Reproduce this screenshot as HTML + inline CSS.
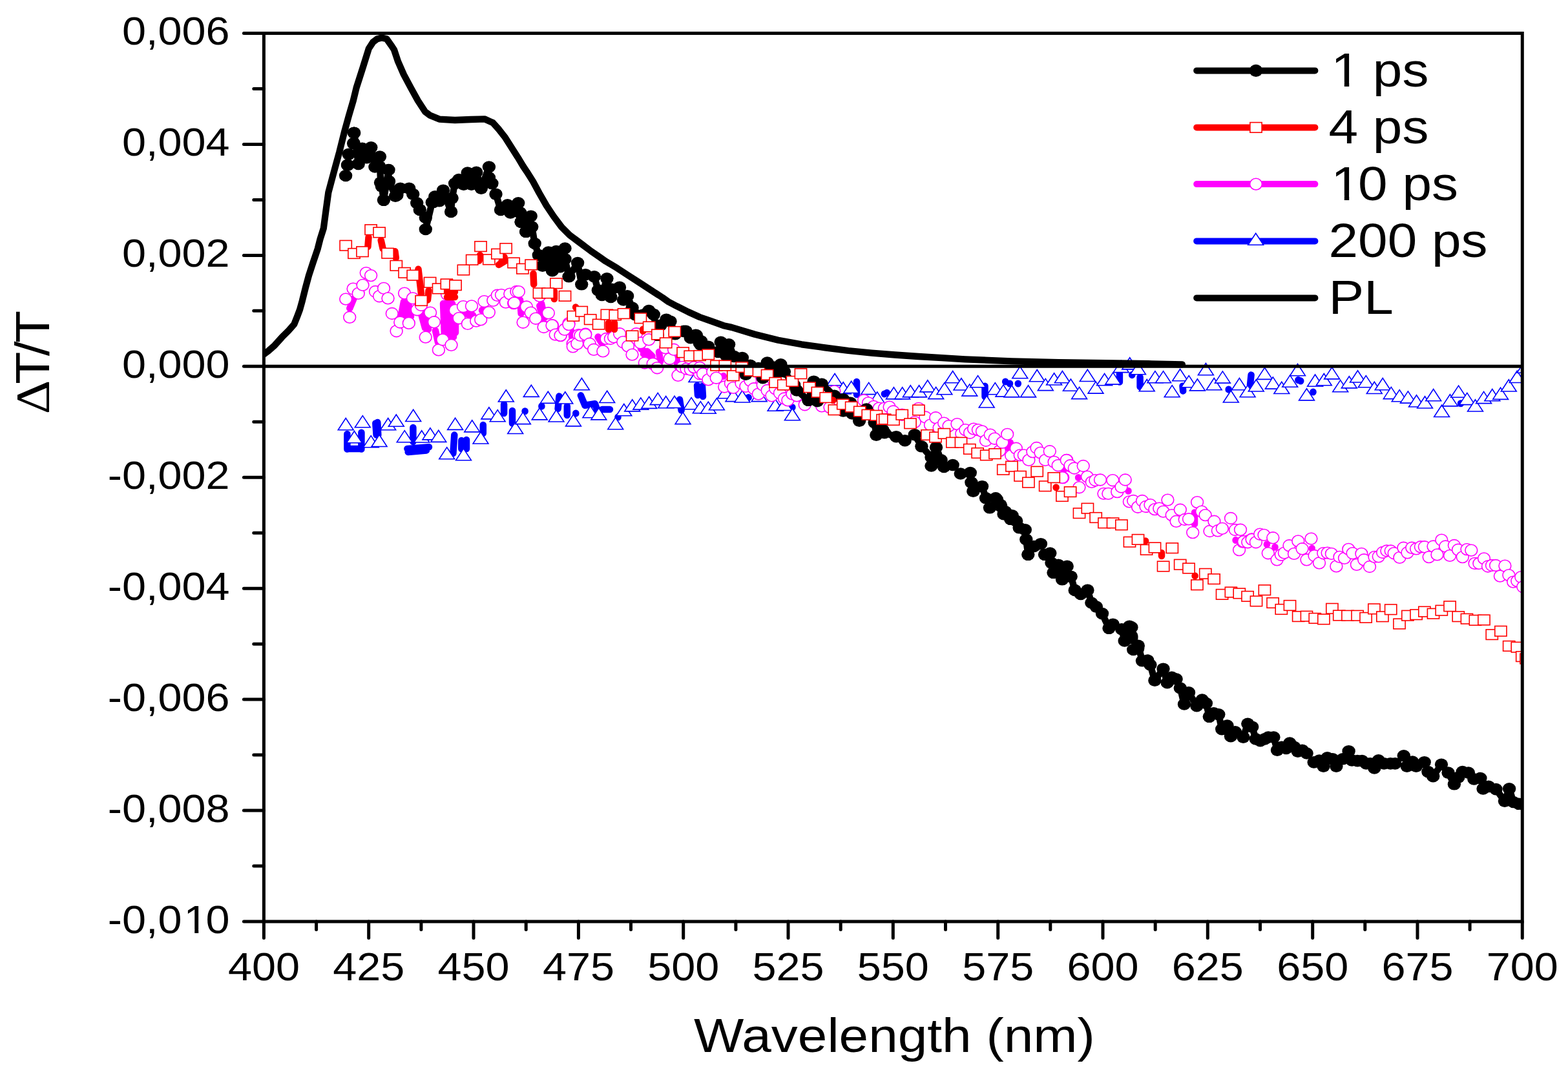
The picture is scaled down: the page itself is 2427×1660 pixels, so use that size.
<!DOCTYPE html>
<html><head><meta charset="utf-8"><title>Transient absorption spectra</title>
<style>html,body{margin:0;padding:0;background:#fff;} svg{display:block;}</style></head>
<body><svg width="2427" height="1660" viewBox="0 0 2427 1660">
<rect width="2427" height="1660" fill="#fff"/>
<defs><clipPath id="pc"><rect x="408.4" y="51.5" width="1947.9" height="1375.5"/></clipPath></defs>
<g clip-path="url(#pc)">
<path d="M537.4,672.0L537.4,695.5M559.4,669.7L559.4,695.5M581.3,655.5L582.6,673.6M584.3,654.0L585.3,673.6M537.4,694.9L559.4,694.9M639.4,662.0L639.4,684.0M630.4,694.9L664.0,692.3M631.7,700.0L660.0,697.5M703.3,673.6L701.4,702.0M714.3,682.0L714.3,695.0M722.0,681.0L722.0,695.0M747.8,658.0L747.8,671.0M780.1,626.0L780.1,640.0M793.0,636.0L793.0,655.5M812.6,636.5L812.6,637.1M838.4,628.8L838.4,629.4M865.5,613.6L863.6,633.0M877.8,629.0L877.8,643.0M891.3,639.8L891.3,640.4M898.9,612.3L905.4,627.8M905.4,627.8L920.9,625.2M920.9,625.2L924.0,634.0M932.0,634.0L944.0,634.0M956.5,645.6L956.5,646.2M1052.0,618.8L1054.6,635.5M1079.0,597.0L1080.0,612.0M1087.0,598.0L1088.0,614.0M1158.6,615.3L1158.6,615.9M1226.4,630.5L1226.4,631.1M1326.0,591.0L1326.0,611.0M1290.0,601.5L1290.0,602.1M1368.9,609.7L1368.9,610.3M1372.8,608.0L1372.8,608.6M1524.5,597.7L1524.5,614.3M1556.2,590.7L1556.2,591.3M1563.0,593.7L1563.0,594.3M1575.8,593.7L1575.8,594.3M1732.9,579.0L1732.9,591.5M1752.2,580.3L1752.2,580.9M1764.6,584.0L1764.6,599.0M1830.5,597.7L1831.2,605.4M1901.7,602.8L1901.7,603.4M1936.6,580.6L1935.0,596.1M2009.4,588.1L2009.4,588.7M2013.2,589.6L2013.2,590.2M2032.5,606.7L2032.5,607.3M2261.0,624.5L2261.0,625.1" fill="none" stroke="#00f" stroke-width="10.5" stroke-linecap="round"/>
<g fill="#fff" stroke="#00f" stroke-width="1.6"><polygon points="523.3,665.7 535.2,647.5 547.1,665.7"/><polygon points="536.5,685.7 548.4,667.5 560.3,685.7"/><polygon points="549.4,661.8 561.3,643.6 573.2,661.8"/><polygon points="562.3,692.8 574.2,674.6 586.1,692.8"/><polygon points="575.2,691.5 587.1,673.3 599.0,691.5"/><polygon points="588.8,665.7 600.7,647.5 612.6,665.7"/><polygon points="601.4,660.2 613.3,642.0 625.2,660.2"/><polygon points="614.3,684.8 626.2,666.6 638.1,684.8"/><polygon points="627.8,652.5 639.7,634.3 651.6,652.5"/><polygon points="640.8,685.0 652.7,666.8 664.6,685.0"/><polygon points="654.0,680.9 665.9,662.7 677.8,680.9"/><polygon points="666.9,684.4 678.8,666.2 690.7,684.4"/><polygon points="679.8,710.8 691.7,692.6 703.6,710.8"/><polygon points="692.7,665.4 704.6,647.2 716.5,665.4"/><polygon points="705.6,712.8 717.5,694.6 729.4,712.8"/><polygon points="718.8,668.9 730.7,650.7 742.6,668.9"/><polygon points="732.1,687.0 744.0,668.8 755.9,687.0"/><polygon points="745.0,648.9 756.9,630.7 768.8,648.9"/><polygon points="758.3,652.8 770.2,634.6 782.1,652.8"/><polygon points="771.4,622.0 783.3,603.8 795.2,622.0"/><polygon points="785.8,671.5 797.7,653.3 809.6,671.5"/><polygon points="797.5,656.6 809.4,638.4 821.3,656.6"/><polygon points="810.4,614.4 822.3,596.2 834.2,614.4"/><polygon points="823.3,649.9 835.2,631.7 847.1,649.9"/><polygon points="836.4,624.4 848.3,606.2 860.2,624.4"/><polygon points="849.1,653.0 861.0,634.8 872.9,653.0"/><polygon points="862.9,625.0 874.8,606.8 886.7,625.0"/><polygon points="875.6,659.9 887.5,641.7 899.4,659.9"/><polygon points="888.5,603.7 900.4,585.5 912.3,603.7"/><polygon points="902.0,646.7 913.9,628.5 925.8,646.7"/><polygon points="914.9,649.9 926.8,631.7 938.7,649.9"/><polygon points="927.8,623.5 939.7,605.3 951.6,623.5"/><polygon points="940.8,664.8 952.7,646.6 964.6,664.8"/><polygon points="953.9,643.7 965.8,625.5 977.7,643.7"/><polygon points="966.8,636.9 978.7,618.7 990.6,636.9"/><polygon points="979.9,634.1 991.8,615.9 1003.7,634.1"/><polygon points="992.8,632.4 1004.7,614.2 1016.6,632.4"/><polygon points="1006.3,626.6 1018.2,608.4 1030.1,626.6"/><polygon points="1018.8,631.7 1030.7,613.5 1042.6,631.7"/><polygon points="1032.1,631.5 1044.0,613.3 1055.9,631.5"/><polygon points="1045.1,656.6 1057.0,638.4 1068.9,656.6"/><polygon points="1058.2,633.8 1070.1,615.6 1082.0,633.8"/><polygon points="1066.0,591.5 1077.9,573.3 1089.8,591.5"/><polygon points="1072.4,639.8 1084.3,621.6 1096.2,639.8"/><polygon points="1084.4,640.3 1096.3,622.1 1108.2,640.3"/><polygon points="1097.5,634.8 1109.4,616.6 1121.3,634.8"/><polygon points="1110.7,616.8 1122.6,598.6 1134.5,616.8"/><polygon points="1123.1,621.6 1135.0,603.4 1146.9,621.6"/><polygon points="1137.0,623.0 1148.9,604.8 1160.8,623.0"/><polygon points="1163.3,621.6 1175.2,603.4 1187.1,621.6"/><polygon points="1188.2,636.2 1200.1,618.0 1212.0,636.2"/><polygon points="1202.0,635.5 1213.9,617.3 1225.8,635.5"/><polygon points="1214.5,650.7 1226.4,632.5 1238.3,650.7"/><polygon points="1280.2,596.7 1292.1,578.5 1304.0,596.7"/><polygon points="1293.3,609.9 1305.2,591.7 1317.1,609.9"/><polygon points="1305.8,608.5 1317.7,590.3 1329.6,608.5"/><polygon points="1332.8,610.6 1344.7,592.4 1356.6,610.6"/><polygon points="1345.9,625.1 1357.8,606.9 1369.7,625.1"/><polygon points="1371.5,617.9 1383.4,599.7 1395.3,617.9"/><polygon points="1384.8,617.9 1396.7,599.7 1408.6,617.9"/><polygon points="1397.4,614.9 1409.3,596.7 1421.2,614.9"/><polygon points="1410.7,614.9 1422.6,596.7 1434.5,614.9"/><polygon points="1423.9,606.9 1435.8,588.7 1447.7,606.9"/><polygon points="1436.8,617.6 1448.7,599.4 1460.6,617.6"/><polygon points="1450.0,610.8 1461.9,592.6 1473.8,610.8"/><polygon points="1462.8,592.7 1474.7,574.5 1486.6,592.7"/><polygon points="1476.1,604.0 1488.0,585.8 1499.9,604.0"/><polygon points="1488.9,613.1 1500.8,594.9 1512.7,613.1"/><polygon points="1501.7,599.8 1513.6,581.6 1525.5,599.8"/><polygon points="1515.3,631.0 1527.2,612.8 1539.1,631.0"/><polygon points="1528.4,610.8 1540.3,592.6 1552.2,610.8"/><polygon points="1541.1,614.1 1553.0,595.9 1564.9,614.1"/><polygon points="1554.1,614.9 1566.0,596.7 1577.9,614.9"/><polygon points="1566.9,585.8 1578.8,567.6 1590.7,585.8"/><polygon points="1579.7,614.9 1591.6,596.7 1603.5,614.9"/><polygon points="1593.3,590.7 1605.2,572.5 1617.1,590.7"/><polygon points="1606.4,604.6 1618.3,586.4 1630.2,604.6"/><polygon points="1619.7,596.0 1631.6,577.8 1643.5,596.0"/><polygon points="1632.5,592.7 1644.4,574.5 1656.3,592.7"/><polygon points="1645.5,605.2 1657.4,587.0 1669.3,605.2"/><polygon points="1658.7,617.6 1670.6,599.4 1682.5,617.6"/><polygon points="1671.4,590.5 1683.3,572.3 1695.2,590.5"/><polygon points="1684.1,609.1 1696.0,590.9 1707.9,609.1"/><polygon points="1697.7,596.7 1709.6,578.5 1721.5,596.7"/><polygon points="1710.9,595.1 1722.8,576.9 1734.7,595.1"/><polygon points="1723.3,576.6 1735.2,558.4 1747.1,576.6"/><polygon points="1736.8,571.9 1748.7,553.7 1760.6,571.9"/><polygon points="1749.6,579.7 1761.5,561.5 1773.4,579.7"/><polygon points="1763.3,605.7 1775.2,587.5 1787.1,605.7"/><polygon points="1776.0,592.8 1787.9,574.6 1799.8,592.8"/><polygon points="1788.7,592.8 1800.6,574.6 1812.5,592.8"/><polygon points="1802.3,614.8 1814.2,596.6 1826.1,614.8"/><polygon points="1814.7,589.7 1826.6,571.5 1838.5,589.7"/><polygon points="1828.3,599.8 1840.2,581.6 1852.1,599.8"/><polygon points="1841.5,604.9 1853.4,586.7 1865.3,604.9"/><polygon points="1854.5,580.7 1866.4,562.5 1878.3,580.7"/><polygon points="1867.3,603.7 1879.2,585.5 1891.1,603.7"/><polygon points="1880.5,593.1 1892.4,574.9 1904.3,593.1"/><polygon points="1893.4,623.0 1905.3,604.8 1917.2,623.0"/><polygon points="1906.5,603.7 1918.4,585.5 1930.3,603.7"/><polygon points="1919.2,614.8 1931.1,596.6 1943.0,614.8"/><polygon points="1932.4,606.0 1944.3,587.8 1956.2,606.0"/><polygon points="1945.6,587.4 1957.5,569.2 1969.4,587.4"/><polygon points="1958.4,602.1 1970.3,583.9 1982.2,602.1"/><polygon points="1971.9,609.5 1983.8,591.3 1995.7,609.5"/><polygon points="1984.8,599.3 1996.7,581.1 2008.6,599.3"/><polygon points="1996.6,581.7 2008.5,563.5 2020.4,581.7"/><polygon points="2010.6,619.9 2022.5,601.7 2034.4,619.9"/><polygon points="2023.7,598.2 2035.6,580.0 2047.5,598.2"/><polygon points="2037.4,596.7 2049.3,578.5 2061.2,596.7"/><polygon points="2049.7,586.9 2061.6,568.7 2073.5,586.9"/><polygon points="2062.8,606.8 2074.7,588.6 2086.6,606.8"/><polygon points="2076.4,600.9 2088.3,582.7 2100.2,600.9"/><polygon points="2089.6,592.0 2101.5,573.8 2113.4,592.0"/><polygon points="2102.4,599.8 2114.3,581.6 2126.2,599.8"/><polygon points="2115.4,609.5 2127.3,591.3 2139.2,609.5"/><polygon points="2128.3,603.7 2140.2,585.5 2152.1,603.7"/><polygon points="2141.4,617.6 2153.3,599.4 2165.2,617.6"/><polygon points="2154.3,621.8 2166.2,603.6 2178.1,621.8"/><polygon points="2167.5,624.1 2179.4,605.9 2191.3,624.1"/><polygon points="2180.6,630.0 2192.5,611.8 2204.4,630.0"/><polygon points="2193.6,632.0 2205.5,613.8 2217.4,632.0"/><polygon points="2206.8,620.7 2218.7,602.5 2230.6,620.7"/><polygon points="2219.7,645.5 2231.6,627.3 2243.5,645.5"/><polygon points="2232.5,628.9 2244.4,610.7 2256.3,628.9"/><polygon points="2245.7,615.3 2257.6,597.1 2269.5,615.3"/><polygon points="2258.9,626.6 2270.8,608.4 2282.7,626.6"/><polygon points="2271.6,637.0 2283.5,618.8 2295.4,637.0"/><polygon points="2284.7,624.6 2296.6,606.4 2308.5,624.6"/><polygon points="2297.9,620.7 2309.8,602.5 2321.7,620.7"/><polygon points="2310.7,618.4 2322.6,600.2 2334.5,618.4"/><polygon points="2323.4,606.0 2335.3,587.8 2347.2,606.0"/><polygon points="2336.3,592.5 2348.2,574.3 2360.1,592.5"/><polygon points="2348.1,577.3 2360.0,559.1 2371.9,577.3"/></g>
<path d="M547.7,462.0L541.3,477.5M625.0,467.0L621.0,488.0M632.0,470.0L636.0,490.0M621.0,488.0L636.0,490.0M628.0,475.0L628.0,488.0M656.0,484.0L663.0,510.0M652.0,486.0L658.0,508.0M674.0,512.0L678.0,530.0M686.0,470.0L688.0,520.0M693.0,466.0L695.0,522.0M700.0,470.0L702.0,522.0M705.0,490.0L705.0,515.0M720.0,486.0L732.0,488.0M746.0,480.1L746.0,480.7M805.1,464.5L806.6,485.6M835.3,473.5L839.8,493.2M838.0,470.0L843.0,492.0M884.0,512.0L886.0,527.0M925.8,521.5L925.8,522.1M925.5,522.0L932.0,532.3M1001.7,543.9L1009.5,551.6M992.0,540.0L1008.0,552.0M996.0,548.0L1010.0,556.0M1020.0,545.0L1022.0,560.0M1047.0,553.0L1049.0,569.0M1119.8,582.1L1119.8,582.7M1563.7,685.2L1560.7,694.3M1646.7,727.2L1646.7,727.8M1669.1,739.2L1669.1,739.8M1746.5,760.0L1746.5,760.6M1849.0,793.5L1849.0,811.5M1912.6,836.1L1912.6,836.7M1960.9,842.6L1960.9,843.2M1973.5,847.0L1973.5,847.6M2030.7,848.9L2030.7,849.5" fill="none" stroke="#f0f" stroke-width="10.5" stroke-linecap="round"/>
<g fill="#fff" stroke="#f0f" stroke-width="1.6"><ellipse cx="535.2" cy="463.1" rx="9.4" ry="8.9"/><ellipse cx="541.2" cy="491.3" rx="9.4" ry="8.9"/><ellipse cx="546.6" cy="447.2" rx="9.4" ry="8.9"/><ellipse cx="554.7" cy="454.4" rx="9.4" ry="8.9"/><ellipse cx="561.5" cy="441.4" rx="9.4" ry="8.9"/><ellipse cx="566.8" cy="422.6" rx="9.4" ry="8.9"/><ellipse cx="574.1" cy="426.6" rx="9.4" ry="8.9"/><ellipse cx="581.0" cy="451.5" rx="9.4" ry="8.9"/><ellipse cx="587.1" cy="458.7" rx="9.4" ry="8.9"/><ellipse cx="594.0" cy="446.4" rx="9.4" ry="8.9"/><ellipse cx="600.5" cy="461.9" rx="9.4" ry="8.9"/><ellipse cx="606.8" cy="485.5" rx="9.4" ry="8.9"/><ellipse cx="613.6" cy="512.7" rx="9.4" ry="8.9"/><ellipse cx="619.3" cy="499.0" rx="9.4" ry="8.9"/><ellipse cx="626.1" cy="454.1" rx="9.4" ry="8.9"/><ellipse cx="632.8" cy="500.4" rx="9.4" ry="8.9"/><ellipse cx="638.9" cy="461.9" rx="9.4" ry="8.9"/><ellipse cx="645.7" cy="479.7" rx="9.4" ry="8.9"/><ellipse cx="651.9" cy="472.5" rx="9.4" ry="8.9"/><ellipse cx="658.7" cy="522.1" rx="9.4" ry="8.9"/><ellipse cx="666.1" cy="484.1" rx="9.4" ry="8.9"/><ellipse cx="671.9" cy="498.8" rx="9.4" ry="8.9"/><ellipse cx="678.9" cy="541.9" rx="9.4" ry="8.9"/><ellipse cx="685.2" cy="526.0" rx="9.4" ry="8.9"/><ellipse cx="692.0" cy="455.8" rx="9.4" ry="8.9"/><ellipse cx="698.5" cy="534.3" rx="9.4" ry="8.9"/><ellipse cx="704.7" cy="480.4" rx="9.4" ry="8.9"/><ellipse cx="710.5" cy="492.7" rx="9.4" ry="8.9"/><ellipse cx="717.0" cy="474.7" rx="9.4" ry="8.9"/><ellipse cx="723.9" cy="501.4" rx="9.4" ry="8.9"/><ellipse cx="730.0" cy="473.9" rx="9.4" ry="8.9"/><ellipse cx="737.2" cy="497.1" rx="9.4" ry="8.9"/><ellipse cx="744.2" cy="494.9" rx="9.4" ry="8.9"/><ellipse cx="749.5" cy="466.7" rx="9.4" ry="8.9"/><ellipse cx="756.8" cy="483.6" rx="9.4" ry="8.9"/><ellipse cx="763.3" cy="465.3" rx="9.4" ry="8.9"/><ellipse cx="769.8" cy="457.3" rx="9.4" ry="8.9"/><ellipse cx="776.0" cy="456.6" rx="9.4" ry="8.9"/><ellipse cx="782.8" cy="468.1" rx="9.4" ry="8.9"/><ellipse cx="789.3" cy="455.1" rx="9.4" ry="8.9"/><ellipse cx="795.1" cy="469.6" rx="9.4" ry="8.9"/><ellipse cx="799.4" cy="451.5" rx="9.4" ry="8.9"/><ellipse cx="802.8" cy="451.7" rx="9.4" ry="8.9"/><ellipse cx="796.0" cy="469.0" rx="9.4" ry="8.9"/><ellipse cx="814.9" cy="475.0" rx="9.4" ry="8.9"/><ellipse cx="821.7" cy="484.1" rx="9.4" ry="8.9"/><ellipse cx="835.3" cy="458.4" rx="9.4" ry="8.9"/><ellipse cx="809.6" cy="499.2" rx="9.4" ry="8.9"/><ellipse cx="829.2" cy="493.2" rx="9.4" ry="8.9"/><ellipse cx="848.8" cy="484.8" rx="9.4" ry="8.9"/><ellipse cx="842.1" cy="506.0" rx="9.4" ry="8.9"/><ellipse cx="854.9" cy="503.7" rx="9.4" ry="8.9"/><ellipse cx="860.9" cy="517.3" rx="9.4" ry="8.9"/><ellipse cx="867.7" cy="519.6" rx="9.4" ry="8.9"/><ellipse cx="874.5" cy="509.7" rx="9.4" ry="8.9"/><ellipse cx="880.5" cy="500.7" rx="9.4" ry="8.9"/><ellipse cx="895.6" cy="518.8" rx="9.4" ry="8.9"/><ellipse cx="906.2" cy="517.3" rx="9.4" ry="8.9"/><ellipse cx="886.6" cy="532.4" rx="9.4" ry="8.9"/><ellipse cx="841.6" cy="506.5" rx="9.4" ry="8.9"/><ellipse cx="854.5" cy="503.9" rx="9.4" ry="8.9"/><ellipse cx="859.7" cy="518.1" rx="9.4" ry="8.9"/><ellipse cx="867.5" cy="519.4" rx="9.4" ry="8.9"/><ellipse cx="873.9" cy="510.3" rx="9.4" ry="8.9"/><ellipse cx="880.4" cy="502.6" rx="9.4" ry="8.9"/><ellipse cx="886.8" cy="536.8" rx="9.4" ry="8.9"/><ellipse cx="893.3" cy="532.3" rx="9.4" ry="8.9"/><ellipse cx="898.4" cy="519.4" rx="9.4" ry="8.9"/><ellipse cx="906.2" cy="518.1" rx="9.4" ry="8.9"/><ellipse cx="912.6" cy="532.3" rx="9.4" ry="8.9"/><ellipse cx="919.1" cy="541.3" rx="9.4" ry="8.9"/><ellipse cx="933.3" cy="543.9" rx="9.4" ry="8.9"/><ellipse cx="938.5" cy="524.5" rx="9.4" ry="8.9"/><ellipse cx="944.9" cy="524.5" rx="9.4" ry="8.9"/><ellipse cx="950.1" cy="521.9" rx="9.4" ry="8.9"/><ellipse cx="959.1" cy="516.8" rx="9.4" ry="8.9"/><ellipse cx="964.3" cy="529.7" rx="9.4" ry="8.9"/><ellipse cx="972.0" cy="536.1" rx="9.4" ry="8.9"/><ellipse cx="978.5" cy="549.1" rx="9.4" ry="8.9"/><ellipse cx="984.9" cy="516.8" rx="9.4" ry="8.9"/><ellipse cx="991.4" cy="531.0" rx="9.4" ry="8.9"/><ellipse cx="997.8" cy="562.0" rx="9.4" ry="8.9"/><ellipse cx="1004.3" cy="525.8" rx="9.4" ry="8.9"/><ellipse cx="1010.7" cy="563.3" rx="9.4" ry="8.9"/><ellipse cx="1017.2" cy="569.7" rx="9.4" ry="8.9"/><ellipse cx="1030.1" cy="538.7" rx="9.4" ry="8.9"/><ellipse cx="1036.6" cy="555.5" rx="9.4" ry="8.9"/><ellipse cx="1043.0" cy="541.3" rx="9.4" ry="8.9"/><ellipse cx="1049.5" cy="581.3" rx="9.4" ry="8.9"/><ellipse cx="1055.9" cy="568.4" rx="9.4" ry="8.9"/><ellipse cx="1062.4" cy="571.0" rx="9.4" ry="8.9"/><ellipse cx="1068.8" cy="572.3" rx="9.4" ry="8.9"/><ellipse cx="1075.3" cy="569.7" rx="9.4" ry="8.9"/><ellipse cx="1083.0" cy="578.7" rx="9.4" ry="8.9"/><ellipse cx="1074.2" cy="568.6" rx="9.4" ry="8.9"/><ellipse cx="1083.1" cy="569.3" rx="9.4" ry="8.9"/><ellipse cx="1088.0" cy="578.9" rx="9.4" ry="8.9"/><ellipse cx="1096.3" cy="587.9" rx="9.4" ry="8.9"/><ellipse cx="1103.2" cy="575.5" rx="9.4" ry="8.9"/><ellipse cx="1108.7" cy="585.2" rx="9.4" ry="8.9"/><ellipse cx="1121.2" cy="599.0" rx="9.4" ry="8.9"/><ellipse cx="1130.9" cy="593.5" rx="9.4" ry="8.9"/><ellipse cx="1135.0" cy="600.4" rx="9.4" ry="8.9"/><ellipse cx="1147.5" cy="593.5" rx="9.4" ry="8.9"/><ellipse cx="1154.4" cy="598.3" rx="9.4" ry="8.9"/><ellipse cx="1161.3" cy="589.3" rx="9.4" ry="8.9"/><ellipse cx="1166.9" cy="601.8" rx="9.4" ry="8.9"/><ellipse cx="1173.8" cy="610.1" rx="9.4" ry="8.9"/><ellipse cx="1180.7" cy="596.2" rx="9.4" ry="8.9"/><ellipse cx="1187.6" cy="604.5" rx="9.4" ry="8.9"/><ellipse cx="1194.5" cy="612.8" rx="9.4" ry="8.9"/><ellipse cx="1200.1" cy="601.8" rx="9.4" ry="8.9"/><ellipse cx="1207.0" cy="608.7" rx="9.4" ry="8.9"/><ellipse cx="1213.9" cy="617.0" rx="9.4" ry="8.9"/><ellipse cx="1219.4" cy="619.8" rx="9.4" ry="8.9"/><ellipse cx="1226.4" cy="610.1" rx="9.4" ry="8.9"/><ellipse cx="1233.3" cy="612.8" rx="9.4" ry="8.9"/><ellipse cx="1245.7" cy="626.7" rx="9.4" ry="8.9"/><ellipse cx="1272.0" cy="628.8" rx="9.4" ry="8.9"/><ellipse cx="1284.5" cy="630.8" rx="9.4" ry="8.9"/><ellipse cx="1291.4" cy="605.9" rx="9.4" ry="8.9"/><ellipse cx="1337.1" cy="619.8" rx="9.4" ry="8.9"/><ellipse cx="1344.0" cy="623.9" rx="9.4" ry="8.9"/><ellipse cx="1352.3" cy="629.4" rx="9.4" ry="8.9"/><ellipse cx="1360.6" cy="632.2" rx="9.4" ry="8.9"/><ellipse cx="1368.9" cy="632.2" rx="9.4" ry="8.9"/><ellipse cx="1356.4" cy="653.0" rx="9.4" ry="8.9"/><ellipse cx="1376.6" cy="630.2" rx="9.4" ry="8.9"/><ellipse cx="1382.6" cy="637.0" rx="9.4" ry="8.9"/><ellipse cx="1396.2" cy="642.2" rx="9.4" ry="8.9"/><ellipse cx="1415.8" cy="653.6" rx="9.4" ry="8.9"/><ellipse cx="1421.9" cy="632.4" rx="9.4" ry="8.9"/><ellipse cx="1432.4" cy="646.0" rx="9.4" ry="8.9"/><ellipse cx="1440.0" cy="658.1" rx="9.4" ry="8.9"/><ellipse cx="1448.3" cy="646.8" rx="9.4" ry="8.9"/><ellipse cx="1453.6" cy="662.6" rx="9.4" ry="8.9"/><ellipse cx="1461.1" cy="655.1" rx="9.4" ry="8.9"/><ellipse cx="1468.6" cy="659.6" rx="9.4" ry="8.9"/><ellipse cx="1481.5" cy="656.6" rx="9.4" ry="8.9"/><ellipse cx="1488.3" cy="671.7" rx="9.4" ry="8.9"/><ellipse cx="1494.3" cy="665.6" rx="9.4" ry="8.9"/><ellipse cx="1501.1" cy="670.2" rx="9.4" ry="8.9"/><ellipse cx="1507.1" cy="664.1" rx="9.4" ry="8.9"/><ellipse cx="1513.9" cy="665.6" rx="9.4" ry="8.9"/><ellipse cx="1520.0" cy="667.9" rx="9.4" ry="8.9"/><ellipse cx="1526.0" cy="682.2" rx="9.4" ry="8.9"/><ellipse cx="1532.8" cy="673.2" rx="9.4" ry="8.9"/><ellipse cx="1539.6" cy="679.2" rx="9.4" ry="8.9"/><ellipse cx="1547.1" cy="698.1" rx="9.4" ry="8.9"/><ellipse cx="1551.6" cy="685.2" rx="9.4" ry="8.9"/><ellipse cx="1559.2" cy="672.4" rx="9.4" ry="8.9"/><ellipse cx="1565.2" cy="705.6" rx="9.4" ry="8.9"/><ellipse cx="1572.8" cy="694.3" rx="9.4" ry="8.9"/><ellipse cx="1578.8" cy="704.9" rx="9.4" ry="8.9"/><ellipse cx="1584.8" cy="704.9" rx="9.4" ry="8.9"/><ellipse cx="1592.4" cy="712.4" rx="9.4" ry="8.9"/><ellipse cx="1598.4" cy="699.6" rx="9.4" ry="8.9"/><ellipse cx="1604.5" cy="693.5" rx="9.4" ry="8.9"/><ellipse cx="1610.5" cy="701.1" rx="9.4" ry="8.9"/><ellipse cx="1618.0" cy="712.4" rx="9.4" ry="8.9"/><ellipse cx="1624.8" cy="698.8" rx="9.4" ry="8.9"/><ellipse cx="1631.6" cy="715.4" rx="9.4" ry="8.9"/><ellipse cx="1637.7" cy="720.7" rx="9.4" ry="8.9"/><ellipse cx="1645.2" cy="739.6" rx="9.4" ry="8.9"/><ellipse cx="1651.2" cy="712.4" rx="9.4" ry="8.9"/><ellipse cx="1657.3" cy="722.2" rx="9.4" ry="8.9"/><ellipse cx="1650.8" cy="712.5" rx="9.4" ry="8.9"/><ellipse cx="1644.2" cy="739.5" rx="9.4" ry="8.9"/><ellipse cx="1656.6" cy="720.8" rx="9.4" ry="8.9"/><ellipse cx="1662.8" cy="725.0" rx="9.4" ry="8.9"/><ellipse cx="1676.7" cy="721.5" rx="9.4" ry="8.9"/><ellipse cx="1670.4" cy="754.7" rx="9.4" ry="8.9"/><ellipse cx="1682.9" cy="738.1" rx="9.4" ry="8.9"/><ellipse cx="1689.8" cy="746.4" rx="9.4" ry="8.9"/><ellipse cx="1695.4" cy="743.7" rx="9.4" ry="8.9"/><ellipse cx="1703.0" cy="743.0" rx="9.4" ry="8.9"/><ellipse cx="1708.5" cy="764.4" rx="9.4" ry="8.9"/><ellipse cx="1715.4" cy="764.4" rx="9.4" ry="8.9"/><ellipse cx="1722.3" cy="743.7" rx="9.4" ry="8.9"/><ellipse cx="1729.3" cy="761.6" rx="9.4" ry="8.9"/><ellipse cx="1735.5" cy="754.0" rx="9.4" ry="8.9"/><ellipse cx="1741.7" cy="743.0" rx="9.4" ry="8.9"/><ellipse cx="1747.9" cy="776.9" rx="9.4" ry="8.9"/><ellipse cx="1754.2" cy="775.5" rx="9.4" ry="8.9"/><ellipse cx="1761.1" cy="785.2" rx="9.4" ry="8.9"/><ellipse cx="1768.0" cy="775.5" rx="9.4" ry="8.9"/><ellipse cx="1773.5" cy="784.5" rx="9.4" ry="8.9"/><ellipse cx="1780.5" cy="781.7" rx="9.4" ry="8.9"/><ellipse cx="1787.4" cy="788.6" rx="9.4" ry="8.9"/><ellipse cx="1794.3" cy="787.2" rx="9.4" ry="8.9"/><ellipse cx="1800.5" cy="792.1" rx="9.4" ry="8.9"/><ellipse cx="1807.4" cy="774.1" rx="9.4" ry="8.9"/><ellipse cx="1813.7" cy="797.6" rx="9.4" ry="8.9"/><ellipse cx="1820.6" cy="807.3" rx="9.4" ry="8.9"/><ellipse cx="1826.8" cy="789.3" rx="9.4" ry="8.9"/><ellipse cx="1833.7" cy="804.5" rx="9.4" ry="8.9"/><ellipse cx="1840.0" cy="803.8" rx="9.4" ry="8.9"/><ellipse cx="1846.2" cy="824.6" rx="9.4" ry="8.9"/><ellipse cx="1853.1" cy="777.6" rx="9.4" ry="8.9"/><ellipse cx="1860.0" cy="792.1" rx="9.4" ry="8.9"/><ellipse cx="1865.6" cy="797.6" rx="9.4" ry="8.9"/><ellipse cx="1872.5" cy="822.5" rx="9.4" ry="8.9"/><ellipse cx="1879.4" cy="807.3" rx="9.4" ry="8.9"/><ellipse cx="1884.9" cy="821.8" rx="9.4" ry="8.9"/><ellipse cx="1891.8" cy="818.4" rx="9.4" ry="8.9"/><ellipse cx="1905.0" cy="802.5" rx="9.4" ry="8.9"/><ellipse cx="1911.9" cy="820.5" rx="9.4" ry="8.9"/><ellipse cx="1918.1" cy="851.6" rx="9.4" ry="8.9"/><ellipse cx="1923.7" cy="839.1" rx="9.4" ry="8.9"/><ellipse cx="1932.0" cy="837.7" rx="9.4" ry="8.9"/><ellipse cx="1937.5" cy="835.0" rx="9.4" ry="8.9"/><ellipse cx="1920.0" cy="820.3" rx="9.4" ry="8.9"/><ellipse cx="1925.0" cy="838.5" rx="9.4" ry="8.9"/><ellipse cx="1931.3" cy="839.7" rx="9.4" ry="8.9"/><ellipse cx="1937.6" cy="835.3" rx="9.4" ry="8.9"/><ellipse cx="1943.9" cy="839.7" rx="9.4" ry="8.9"/><ellipse cx="1950.2" cy="827.2" rx="9.4" ry="8.9"/><ellipse cx="1956.5" cy="828.4" rx="9.4" ry="8.9"/><ellipse cx="1962.8" cy="856.7" rx="9.4" ry="8.9"/><ellipse cx="1970.3" cy="832.8" rx="9.4" ry="8.9"/><ellipse cx="1976.6" cy="866.8" rx="9.4" ry="8.9"/><ellipse cx="1982.9" cy="859.2" rx="9.4" ry="8.9"/><ellipse cx="1987.9" cy="856.1" rx="9.4" ry="8.9"/><ellipse cx="1995.5" cy="844.8" rx="9.4" ry="8.9"/><ellipse cx="2003.0" cy="857.4" rx="9.4" ry="8.9"/><ellipse cx="2009.3" cy="837.9" rx="9.4" ry="8.9"/><ellipse cx="2015.6" cy="849.8" rx="9.4" ry="8.9"/><ellipse cx="2022.5" cy="866.8" rx="9.4" ry="8.9"/><ellipse cx="2029.4" cy="834.1" rx="9.4" ry="8.9"/><ellipse cx="2034.5" cy="860.5" rx="9.4" ry="8.9"/><ellipse cx="2042.0" cy="871.8" rx="9.4" ry="8.9"/><ellipse cx="2048.3" cy="856.7" rx="9.4" ry="8.9"/><ellipse cx="2054.6" cy="856.1" rx="9.4" ry="8.9"/><ellipse cx="2060.9" cy="857.4" rx="9.4" ry="8.9"/><ellipse cx="2068.4" cy="876.9" rx="9.4" ry="8.9"/><ellipse cx="2073.5" cy="862.4" rx="9.4" ry="8.9"/><ellipse cx="2081.0" cy="864.3" rx="9.4" ry="8.9"/><ellipse cx="2087.3" cy="850.4" rx="9.4" ry="8.9"/><ellipse cx="2093.6" cy="856.7" rx="9.4" ry="8.9"/><ellipse cx="2099.9" cy="874.3" rx="9.4" ry="8.9"/><ellipse cx="2107.4" cy="857.4" rx="9.4" ry="8.9"/><ellipse cx="2111.2" cy="866.8" rx="9.4" ry="8.9"/><ellipse cx="2120.0" cy="877.5" rx="9.4" ry="8.9"/><ellipse cx="2127.5" cy="862.4" rx="9.4" ry="8.9"/><ellipse cx="2133.8" cy="861.8" rx="9.4" ry="8.9"/><ellipse cx="2140.1" cy="855.5" rx="9.4" ry="8.9"/><ellipse cx="2146.4" cy="853.0" rx="9.4" ry="8.9"/><ellipse cx="2152.7" cy="853.0" rx="9.4" ry="8.9"/><ellipse cx="2157.7" cy="856.7" rx="9.4" ry="8.9"/><ellipse cx="2166.4" cy="863.4" rx="9.4" ry="8.9"/><ellipse cx="2172.4" cy="848.3" rx="9.4" ry="8.9"/><ellipse cx="2178.5" cy="855.8" rx="9.4" ry="8.9"/><ellipse cx="2185.3" cy="848.3" rx="9.4" ry="8.9"/><ellipse cx="2192.1" cy="849.8" rx="9.4" ry="8.9"/><ellipse cx="2198.9" cy="846.8" rx="9.4" ry="8.9"/><ellipse cx="2204.9" cy="846.8" rx="9.4" ry="8.9"/><ellipse cx="2211.7" cy="862.6" rx="9.4" ry="8.9"/><ellipse cx="2218.5" cy="846.0" rx="9.4" ry="8.9"/><ellipse cx="2224.5" cy="858.9" rx="9.4" ry="8.9"/><ellipse cx="2231.3" cy="836.2" rx="9.4" ry="8.9"/><ellipse cx="2237.3" cy="846.0" rx="9.4" ry="8.9"/><ellipse cx="2244.1" cy="860.4" rx="9.4" ry="8.9"/><ellipse cx="2250.9" cy="844.5" rx="9.4" ry="8.9"/><ellipse cx="2257.0" cy="851.3" rx="9.4" ry="8.9"/><ellipse cx="2263.8" cy="862.6" rx="9.4" ry="8.9"/><ellipse cx="2270.5" cy="850.6" rx="9.4" ry="8.9"/><ellipse cx="2277.3" cy="852.1" rx="9.4" ry="8.9"/><ellipse cx="2282.6" cy="872.4" rx="9.4" ry="8.9"/><ellipse cx="2289.4" cy="872.4" rx="9.4" ry="8.9"/><ellipse cx="2297.0" cy="864.9" rx="9.4" ry="8.9"/><ellipse cx="2303.0" cy="877.0" rx="9.4" ry="8.9"/><ellipse cx="2309.0" cy="875.5" rx="9.4" ry="8.9"/><ellipse cx="2315.1" cy="875.5" rx="9.4" ry="8.9"/><ellipse cx="2321.9" cy="892.1" rx="9.4" ry="8.9"/><ellipse cx="2329.4" cy="876.2" rx="9.4" ry="8.9"/><ellipse cx="2335.4" cy="890.6" rx="9.4" ry="8.9"/><ellipse cx="2342.2" cy="901.1" rx="9.4" ry="8.9"/><ellipse cx="2348.3" cy="899.6" rx="9.4" ry="8.9"/><ellipse cx="2354.3" cy="893.6" rx="9.4" ry="8.9"/><ellipse cx="2357.3" cy="908.7" rx="9.4" ry="8.9"/></g>
<path d="M549.4,214.7L553.5,245.0M556.9,245.2L558.5,238.5M576.1,237.1L578.6,249.7M588.1,251.6L588.8,273.8M592.2,297.5L592.6,300.9M595.3,300.9L600.1,271.9M601.5,272.0L601.5,273.6M605.6,288.9L608.4,295.4M660.9,346.2L666.7,322.2M689.1,303.2L695.0,319.4M698.7,318.9L699.0,315.8M701.4,298.0L702.3,292.9M720.5,277.1L720.9,276.0M726.5,276.0L726.9,277.1M733.1,277.3L733.9,275.1M739.9,275.4L742.2,283.1M747.9,283.2L753.8,267.0M770.2,309.3L772.3,316.3M795.7,322.4L796.6,321.3M816.9,350.2L819.0,343.3M824.8,360.2L826.1,368.1M830.6,385.5L830.9,386.6M843.3,403.4L845.3,398.8M850.7,399.3L853.0,410.4M856.7,410.4L859.1,397.8M863.1,397.7L864.8,404.5M869.3,404.5L872.2,393.2M876.4,409.9L878.6,419.5M885.4,420.7L889.2,414.7M895.7,416.0L898.6,431.4M922.3,437.0L923.3,440.7M934.4,448.3L936.8,439.9M941.2,440.1L943.6,451.2M961.6,453.5L962.4,455.9M974.5,466.7L975.2,468.2M991.8,484.6L995.6,483.6M1013.5,495.9L1016.2,510.0M1040.7,506.1L1041.8,508.9M1119.0,538.2L1120.7,542.2M1131.8,541.5L1132.7,543.8M1150.8,562.8L1152.5,570.8M1183.2,576.6L1185.1,570.2M1219.2,582.8L1223.8,588.9M1240.2,610.3L1244.4,614.0M1253.8,611.1L1257.1,599.4M1261.2,599.6L1263.5,612.2M1267.4,612.4L1269.7,603.6M1278.6,601.0L1284.8,606.7M1334.8,643.9L1336.5,641.3M1345.8,641.3L1349.1,646.7M1354.9,663.3L1355.2,664.8M1377.5,673.0L1378.7,673.4M1420.3,681.0L1421.9,683.5M1432.5,698.0L1435.4,701.2M1443.8,712.8L1446.7,701.5M1452.3,701.2L1453.3,704.0M1522.8,761.7L1523.2,762.8M1589.4,844.3L1590.2,849.9M1640.4,883.4L1641.8,888.6M1647.2,888.9L1648.6,885.3M1660.2,901.5L1661.2,905.2M1686.0,922.5L1686.8,924.9M1709.8,958.3L1712.7,964.6M1738.4,983.0L1738.5,983.7M1743.5,983.9L1745.4,978.2M1764.1,1008.6L1765.7,1014.6M1782.9,1038.1L1784.9,1045.1M1792.7,1046.4L1795.2,1043.0M1803.0,1044.3L1804.2,1048.6M1829.0,1074.2L1830.8,1081.7M1836.3,1082.0L1836.7,1080.8M1844.6,1080.1L1847.8,1085.5M1869.0,1097.8L1869.7,1101.0M1888.2,1115.1L1889.3,1120.3M1927.2,1133.1L1928.5,1129.3M1940.7,1134.3L1941.2,1135.8M1973.8,1150.3L1974.6,1153.0M2223.3,1194.8L2225.9,1191.2M2245.8,1204.6L2246.7,1206.3M2320.8,1229.4L2323.7,1233.3M2332.1,1232.2L2333.0,1229.8M2338.8,1230.0L2339.8,1233.4" fill="none" stroke="#000" stroke-width="10.5" stroke-linecap="round"/>
<g fill="#000"><ellipse cx="567.5" cy="244.3" rx="10.2" ry="9.3"/><ellipse cx="587.3" cy="257.9" rx="10.2" ry="9.3"/><ellipse cx="589.0" cy="282.8" rx="10.2" ry="9.3"/><ellipse cx="602.0" cy="280.6" rx="10.2" ry="9.3"/><ellipse cx="614.4" cy="302.1" rx="10.2" ry="9.3"/><ellipse cx="548.2" cy="205.8" rx="10.2" ry="9.3"/><ellipse cx="547.6" cy="221.7" rx="10.2" ry="9.3"/><ellipse cx="538.0" cy="255.7" rx="10.2" ry="9.3"/><ellipse cx="673.3" cy="304.3" rx="10.2" ry="9.3"/><ellipse cx="668.8" cy="313.4" rx="10.2" ry="9.3"/><ellipse cx="535.1" cy="272.0" rx="10.2" ry="9.3"/><ellipse cx="538.1" cy="255.5" rx="10.2" ry="9.3"/><ellipse cx="547.9" cy="205.7" rx="10.2" ry="9.3"/><ellipse cx="547.2" cy="222.3" rx="10.2" ry="9.3"/><ellipse cx="539.6" cy="238.8" rx="10.2" ry="9.3"/><ellipse cx="554.7" cy="253.9" rx="10.2" ry="9.3"/><ellipse cx="560.7" cy="229.8" rx="10.2" ry="9.3"/><ellipse cx="574.3" cy="228.3" rx="10.2" ry="9.3"/><ellipse cx="587.9" cy="242.6" rx="10.2" ry="9.3"/><ellipse cx="580.4" cy="258.5" rx="10.2" ry="9.3"/><ellipse cx="601.5" cy="263.0" rx="10.2" ry="9.3"/><ellipse cx="590.9" cy="288.6" rx="10.2" ry="9.3"/><ellipse cx="593.9" cy="309.8" rx="10.2" ry="9.3"/><ellipse cx="601.5" cy="282.6" rx="10.2" ry="9.3"/><ellipse cx="612.0" cy="303.7" rx="10.2" ry="9.3"/><ellipse cx="619.6" cy="291.7" rx="10.2" ry="9.3"/><ellipse cx="633.2" cy="291.7" rx="10.2" ry="9.3"/><ellipse cx="639.2" cy="300.7" rx="10.2" ry="9.3"/><ellipse cx="645.2" cy="314.3" rx="10.2" ry="9.3"/><ellipse cx="649.8" cy="324.9" rx="10.2" ry="9.3"/><ellipse cx="658.8" cy="336.9" rx="10.2" ry="9.3"/><ellipse cx="658.8" cy="355.0" rx="10.2" ry="9.3"/><ellipse cx="670.9" cy="312.8" rx="10.2" ry="9.3"/><ellipse cx="679.9" cy="311.3" rx="10.2" ry="9.3"/><ellipse cx="686.0" cy="294.7" rx="10.2" ry="9.3"/><ellipse cx="698.1" cy="327.9" rx="10.2" ry="9.3"/><ellipse cx="699.6" cy="306.8" rx="10.2" ry="9.3"/><ellipse cx="704.1" cy="284.1" rx="10.2" ry="9.3"/><ellipse cx="710.1" cy="278.1" rx="10.2" ry="9.3"/><ellipse cx="717.7" cy="285.6" rx="10.2" ry="9.3"/><ellipse cx="723.7" cy="267.5" rx="10.2" ry="9.3"/><ellipse cx="729.7" cy="285.6" rx="10.2" ry="9.3"/><ellipse cx="737.3" cy="266.8" rx="10.2" ry="9.3"/><ellipse cx="744.8" cy="291.7" rx="10.2" ry="9.3"/><ellipse cx="756.9" cy="258.5" rx="10.2" ry="9.3"/><ellipse cx="756.9" cy="275.1" rx="10.2" ry="9.3"/><ellipse cx="761.4" cy="284.1" rx="10.2" ry="9.3"/><ellipse cx="767.5" cy="300.7" rx="10.2" ry="9.3"/><ellipse cx="775.0" cy="324.9" rx="10.2" ry="9.3"/><ellipse cx="785.6" cy="317.3" rx="10.2" ry="9.3"/><ellipse cx="802.2" cy="314.3" rx="10.2" ry="9.3"/><ellipse cx="790.1" cy="329.4" rx="10.2" ry="9.3"/><ellipse cx="805.2" cy="329.4" rx="10.2" ry="9.3"/><ellipse cx="806.7" cy="343.7" rx="10.2" ry="9.3"/><ellipse cx="814.2" cy="358.8" rx="10.2" ry="9.3"/><ellipse cx="803.6" cy="328.7" rx="10.2" ry="9.3"/><ellipse cx="821.7" cy="334.7" rx="10.2" ry="9.3"/><ellipse cx="806.6" cy="343.8" rx="10.2" ry="9.3"/><ellipse cx="823.2" cy="351.3" rx="10.2" ry="9.3"/><ellipse cx="814.1" cy="358.8" rx="10.2" ry="9.3"/><ellipse cx="827.7" cy="377.0" rx="10.2" ry="9.3"/><ellipse cx="833.8" cy="395.1" rx="10.2" ry="9.3"/><ellipse cx="839.8" cy="411.7" rx="10.2" ry="9.3"/><ellipse cx="848.8" cy="390.5" rx="10.2" ry="9.3"/><ellipse cx="854.9" cy="419.2" rx="10.2" ry="9.3"/><ellipse cx="860.9" cy="389.0" rx="10.2" ry="9.3"/><ellipse cx="874.5" cy="384.5" rx="10.2" ry="9.3"/><ellipse cx="874.5" cy="401.1" rx="10.2" ry="9.3"/><ellipse cx="867.0" cy="413.2" rx="10.2" ry="9.3"/><ellipse cx="880.5" cy="428.3" rx="10.2" ry="9.3"/><ellipse cx="894.1" cy="407.1" rx="10.2" ry="9.3"/><ellipse cx="900.2" cy="440.3" rx="10.2" ry="9.3"/><ellipse cx="906.2" cy="425.2" rx="10.2" ry="9.3"/><ellipse cx="919.8" cy="428.3" rx="10.2" ry="9.3"/><ellipse cx="939.4" cy="431.3" rx="10.2" ry="9.3"/><ellipse cx="925.8" cy="449.4" rx="10.2" ry="9.3"/><ellipse cx="931.8" cy="456.9" rx="10.2" ry="9.3"/><ellipse cx="946.9" cy="447.9" rx="10.2" ry="9.3"/><ellipse cx="959.0" cy="444.9" rx="10.2" ry="9.3"/><ellipse cx="945.4" cy="460.0" rx="10.2" ry="9.3"/><ellipse cx="971.1" cy="458.4" rx="10.2" ry="9.3"/><ellipse cx="965.0" cy="464.5" rx="10.2" ry="9.3"/><ellipse cx="978.6" cy="476.5" rx="10.2" ry="9.3"/><ellipse cx="983.1" cy="487.1" rx="10.2" ry="9.3"/><ellipse cx="1004.3" cy="481.1" rx="10.2" ry="9.3"/><ellipse cx="1011.8" cy="487.1" rx="10.2" ry="9.3"/><ellipse cx="1022.4" cy="503.7" rx="10.2" ry="9.3"/><ellipse cx="1031.4" cy="494.7" rx="10.2" ry="9.3"/><ellipse cx="1037.5" cy="497.7" rx="10.2" ry="9.3"/><ellipse cx="1017.9" cy="518.8" rx="10.2" ry="9.3"/><ellipse cx="1045.0" cy="517.3" rx="10.2" ry="9.3"/><ellipse cx="1061.6" cy="512.8" rx="10.2" ry="9.3"/><ellipse cx="1076.7" cy="520.3" rx="10.2" ry="9.3"/><ellipse cx="1082.7" cy="530.9" rx="10.2" ry="9.3"/><ellipse cx="1058.5" cy="512.9" rx="10.2" ry="9.3"/><ellipse cx="1068.8" cy="523.2" rx="10.2" ry="9.3"/><ellipse cx="1077.9" cy="519.4" rx="10.2" ry="9.3"/><ellipse cx="1084.3" cy="533.6" rx="10.2" ry="9.3"/><ellipse cx="1076.9" cy="518.7" rx="10.2" ry="9.3"/><ellipse cx="1085.2" cy="528.4" rx="10.2" ry="9.3"/><ellipse cx="1096.3" cy="536.7" rx="10.2" ry="9.3"/><ellipse cx="1115.7" cy="529.8" rx="10.2" ry="9.3"/><ellipse cx="1128.1" cy="533.3" rx="10.2" ry="9.3"/><ellipse cx="1111.5" cy="545.0" rx="10.2" ry="9.3"/><ellipse cx="1124.0" cy="550.6" rx="10.2" ry="9.3"/><ellipse cx="1136.4" cy="552.0" rx="10.2" ry="9.3"/><ellipse cx="1148.9" cy="554.0" rx="10.2" ry="9.3"/><ellipse cx="1154.4" cy="579.6" rx="10.2" ry="9.3"/><ellipse cx="1161.3" cy="565.8" rx="10.2" ry="9.3"/><ellipse cx="1173.8" cy="570.0" rx="10.2" ry="9.3"/><ellipse cx="1180.7" cy="585.2" rx="10.2" ry="9.3"/><ellipse cx="1187.6" cy="561.6" rx="10.2" ry="9.3"/><ellipse cx="1197.3" cy="568.6" rx="10.2" ry="9.3"/><ellipse cx="1208.4" cy="564.4" rx="10.2" ry="9.3"/><ellipse cx="1213.9" cy="575.5" rx="10.2" ry="9.3"/><ellipse cx="1202.8" cy="576.9" rx="10.2" ry="9.3"/><ellipse cx="1233.3" cy="604.5" rx="10.2" ry="9.3"/><ellipse cx="1229.1" cy="596.2" rx="10.2" ry="9.3"/><ellipse cx="1259.6" cy="590.7" rx="10.2" ry="9.3"/><ellipse cx="1272.0" cy="594.9" rx="10.2" ry="9.3"/><ellipse cx="1251.3" cy="619.8" rx="10.2" ry="9.3"/><ellipse cx="1265.1" cy="621.1" rx="10.2" ry="9.3"/><ellipse cx="1291.4" cy="612.8" rx="10.2" ry="9.3"/><ellipse cx="1305.2" cy="618.4" rx="10.2" ry="9.3"/><ellipse cx="1316.3" cy="623.9" rx="10.2" ry="9.3"/><ellipse cx="1305.2" cy="636.4" rx="10.2" ry="9.3"/><ellipse cx="1319.1" cy="640.5" rx="10.2" ry="9.3"/><ellipse cx="1330.1" cy="651.6" rx="10.2" ry="9.3"/><ellipse cx="1341.2" cy="633.6" rx="10.2" ry="9.3"/><ellipse cx="1356.4" cy="673.7" rx="10.2" ry="9.3"/><ellipse cx="1353.7" cy="654.4" rx="10.2" ry="9.3"/><ellipse cx="1366.1" cy="665.4" rx="10.2" ry="9.3"/><ellipse cx="1369.0" cy="670.2" rx="10.2" ry="9.3"/><ellipse cx="1387.2" cy="676.2" rx="10.2" ry="9.3"/><ellipse cx="1400.7" cy="682.2" rx="10.2" ry="9.3"/><ellipse cx="1415.8" cy="673.2" rx="10.2" ry="9.3"/><ellipse cx="1426.4" cy="691.3" rx="10.2" ry="9.3"/><ellipse cx="1449.0" cy="692.8" rx="10.2" ry="9.3"/><ellipse cx="1441.5" cy="707.9" rx="10.2" ry="9.3"/><ellipse cx="1456.6" cy="712.4" rx="10.2" ry="9.3"/><ellipse cx="1441.5" cy="721.5" rx="10.2" ry="9.3"/><ellipse cx="1461.1" cy="723.0" rx="10.2" ry="9.3"/><ellipse cx="1474.7" cy="720.0" rx="10.2" ry="9.3"/><ellipse cx="1486.8" cy="733.5" rx="10.2" ry="9.3"/><ellipse cx="1501.8" cy="732.0" rx="10.2" ry="9.3"/><ellipse cx="1503.4" cy="747.1" rx="10.2" ry="9.3"/><ellipse cx="1520.0" cy="753.2" rx="10.2" ry="9.3"/><ellipse cx="1506.4" cy="760.7" rx="10.2" ry="9.3"/><ellipse cx="1526.0" cy="771.3" rx="10.2" ry="9.3"/><ellipse cx="1541.1" cy="771.3" rx="10.2" ry="9.3"/><ellipse cx="1548.6" cy="781.8" rx="10.2" ry="9.3"/><ellipse cx="1532.0" cy="786.3" rx="10.2" ry="9.3"/><ellipse cx="1556.2" cy="792.4" rx="10.2" ry="9.3"/><ellipse cx="1566.7" cy="798.4" rx="10.2" ry="9.3"/><ellipse cx="1543.0" cy="773.6" rx="10.2" ry="9.3"/><ellipse cx="1549.1" cy="784.1" rx="10.2" ry="9.3"/><ellipse cx="1553.6" cy="796.2" rx="10.2" ry="9.3"/><ellipse cx="1564.1" cy="803.8" rx="10.2" ry="9.3"/><ellipse cx="1573.2" cy="806.8" rx="10.2" ry="9.3"/><ellipse cx="1577.7" cy="817.3" rx="10.2" ry="9.3"/><ellipse cx="1586.8" cy="820.4" rx="10.2" ry="9.3"/><ellipse cx="1588.3" cy="835.4" rx="10.2" ry="9.3"/><ellipse cx="1591.3" cy="858.8" rx="10.2" ry="9.3"/><ellipse cx="1610.9" cy="842.2" rx="10.2" ry="9.3"/><ellipse cx="1600.4" cy="846.0" rx="10.2" ry="9.3"/><ellipse cx="1617.0" cy="858.8" rx="10.2" ry="9.3"/><ellipse cx="1625.3" cy="856.6" rx="10.2" ry="9.3"/><ellipse cx="1627.5" cy="871.7" rx="10.2" ry="9.3"/><ellipse cx="1638.1" cy="874.7" rx="10.2" ry="9.3"/><ellipse cx="1651.7" cy="876.9" rx="10.2" ry="9.3"/><ellipse cx="1630.5" cy="886.8" rx="10.2" ry="9.3"/><ellipse cx="1644.1" cy="897.3" rx="10.2" ry="9.3"/><ellipse cx="1657.7" cy="892.8" rx="10.2" ry="9.3"/><ellipse cx="1663.7" cy="913.9" rx="10.2" ry="9.3"/><ellipse cx="1672.8" cy="920.0" rx="10.2" ry="9.3"/><ellipse cx="1683.4" cy="913.9" rx="10.2" ry="9.3"/><ellipse cx="1689.4" cy="933.5" rx="10.2" ry="9.3"/><ellipse cx="1696.9" cy="939.6" rx="10.2" ry="9.3"/><ellipse cx="1706.0" cy="950.1" rx="10.2" ry="9.3"/><ellipse cx="1716.5" cy="972.8" rx="10.2" ry="9.3"/><ellipse cx="1722.6" cy="966.7" rx="10.2" ry="9.3"/><ellipse cx="1736.2" cy="974.3" rx="10.2" ry="9.3"/><ellipse cx="1748.2" cy="969.7" rx="10.2" ry="9.3"/><ellipse cx="1751.3" cy="984.8" rx="10.2" ry="9.3"/><ellipse cx="1740.7" cy="992.4" rx="10.2" ry="9.3"/><ellipse cx="1761.8" cy="999.9" rx="10.2" ry="9.3"/><ellipse cx="1751.4" cy="971.4" rx="10.2" ry="9.3"/><ellipse cx="1751.4" cy="988.0" rx="10.2" ry="9.3"/><ellipse cx="1761.1" cy="1004.6" rx="10.2" ry="9.3"/><ellipse cx="1754.2" cy="1006.0" rx="10.2" ry="9.3"/><ellipse cx="1768.0" cy="1023.3" rx="10.2" ry="9.3"/><ellipse cx="1776.3" cy="1022.6" rx="10.2" ry="9.3"/><ellipse cx="1780.4" cy="1029.5" rx="10.2" ry="9.3"/><ellipse cx="1800.5" cy="1035.7" rx="10.2" ry="9.3"/><ellipse cx="1787.4" cy="1053.7" rx="10.2" ry="9.3"/><ellipse cx="1806.7" cy="1057.2" rx="10.2" ry="9.3"/><ellipse cx="1813.7" cy="1048.9" rx="10.2" ry="9.3"/><ellipse cx="1820.6" cy="1051.6" rx="10.2" ry="9.3"/><ellipse cx="1826.8" cy="1065.5" rx="10.2" ry="9.3"/><ellipse cx="1840.0" cy="1072.4" rx="10.2" ry="9.3"/><ellipse cx="1833.0" cy="1090.4" rx="10.2" ry="9.3"/><ellipse cx="1852.4" cy="1093.2" rx="10.2" ry="9.3"/><ellipse cx="1860.7" cy="1083.5" rx="10.2" ry="9.3"/><ellipse cx="1866.9" cy="1089.0" rx="10.2" ry="9.3"/><ellipse cx="1871.8" cy="1109.8" rx="10.2" ry="9.3"/><ellipse cx="1878.7" cy="1104.2" rx="10.2" ry="9.3"/><ellipse cx="1886.3" cy="1106.3" rx="10.2" ry="9.3"/><ellipse cx="1891.2" cy="1129.1" rx="10.2" ry="9.3"/><ellipse cx="1899.5" cy="1123.6" rx="10.2" ry="9.3"/><ellipse cx="1905.0" cy="1140.2" rx="10.2" ry="9.3"/><ellipse cx="1911.9" cy="1133.3" rx="10.2" ry="9.3"/><ellipse cx="1924.4" cy="1141.6" rx="10.2" ry="9.3"/><ellipse cx="1931.3" cy="1120.8" rx="10.2" ry="9.3"/><ellipse cx="1938.2" cy="1125.7" rx="10.2" ry="9.3"/><ellipse cx="1943.7" cy="1144.4" rx="10.2" ry="9.3"/><ellipse cx="1950.7" cy="1147.1" rx="10.2" ry="9.3"/><ellipse cx="1957.6" cy="1144.4" rx="10.2" ry="9.3"/><ellipse cx="1963.1" cy="1141.6" rx="10.2" ry="9.3"/><ellipse cx="1971.4" cy="1141.6" rx="10.2" ry="9.3"/><ellipse cx="1977.0" cy="1161.7" rx="10.2" ry="9.3"/><ellipse cx="1983.9" cy="1156.8" rx="10.2" ry="9.3"/><ellipse cx="1990.8" cy="1158.9" rx="10.2" ry="9.3"/><ellipse cx="1996.3" cy="1150.6" rx="10.2" ry="9.3"/><ellipse cx="2003.3" cy="1156.8" rx="10.2" ry="9.3"/><ellipse cx="2008.8" cy="1163.7" rx="10.2" ry="9.3"/><ellipse cx="2015.7" cy="1161.7" rx="10.2" ry="9.3"/><ellipse cx="2022.6" cy="1166.5" rx="10.2" ry="9.3"/><ellipse cx="2033.7" cy="1180.4" rx="10.2" ry="9.3"/><ellipse cx="2042.0" cy="1177.6" rx="10.2" ry="9.3"/><ellipse cx="2054.5" cy="1173.4" rx="10.2" ry="9.3"/><ellipse cx="2041.4" cy="1179.5" rx="10.2" ry="9.3"/><ellipse cx="2048.5" cy="1186.6" rx="10.2" ry="9.3"/><ellipse cx="2055.6" cy="1174.6" rx="10.2" ry="9.3"/><ellipse cx="2062.7" cy="1175.3" rx="10.2" ry="9.3"/><ellipse cx="2068.4" cy="1186.6" rx="10.2" ry="9.3"/><ellipse cx="2078.3" cy="1175.3" rx="10.2" ry="9.3"/><ellipse cx="2087.6" cy="1163.2" rx="10.2" ry="9.3"/><ellipse cx="2092.5" cy="1177.4" rx="10.2" ry="9.3"/><ellipse cx="2101.1" cy="1178.1" rx="10.2" ry="9.3"/><ellipse cx="2108.2" cy="1178.1" rx="10.2" ry="9.3"/><ellipse cx="2114.6" cy="1182.4" rx="10.2" ry="9.3"/><ellipse cx="2120.9" cy="1182.4" rx="10.2" ry="9.3"/><ellipse cx="2127.3" cy="1189.5" rx="10.2" ry="9.3"/><ellipse cx="2133.7" cy="1177.4" rx="10.2" ry="9.3"/><ellipse cx="2142.2" cy="1182.4" rx="10.2" ry="9.3"/><ellipse cx="2152.2" cy="1182.4" rx="10.2" ry="9.3"/><ellipse cx="2159.3" cy="1182.4" rx="10.2" ry="9.3"/><ellipse cx="2172.8" cy="1170.3" rx="10.2" ry="9.3"/><ellipse cx="2177.7" cy="1186.6" rx="10.2" ry="9.3"/><ellipse cx="2186.3" cy="1179.5" rx="10.2" ry="9.3"/><ellipse cx="2192.0" cy="1186.6" rx="10.2" ry="9.3"/><ellipse cx="2204.7" cy="1180.2" rx="10.2" ry="9.3"/><ellipse cx="2210.4" cy="1195.1" rx="10.2" ry="9.3"/><ellipse cx="2218.2" cy="1202.2" rx="10.2" ry="9.3"/><ellipse cx="2231.0" cy="1183.8" rx="10.2" ry="9.3"/><ellipse cx="2241.6" cy="1196.6" rx="10.2" ry="9.3"/><ellipse cx="2250.9" cy="1214.3" rx="10.2" ry="9.3"/><ellipse cx="2257.3" cy="1203.7" rx="10.2" ry="9.3"/><ellipse cx="2263.7" cy="1195.1" rx="10.2" ry="9.3"/><ellipse cx="2272.9" cy="1196.6" rx="10.2" ry="9.3"/><ellipse cx="2281.4" cy="1206.5" rx="10.2" ry="9.3"/><ellipse cx="2291.4" cy="1205.1" rx="10.2" ry="9.3"/><ellipse cx="2295.6" cy="1221.4" rx="10.2" ry="9.3"/><ellipse cx="2304.1" cy="1217.9" rx="10.2" ry="9.3"/><ellipse cx="2315.5" cy="1222.1" rx="10.2" ry="9.3"/><ellipse cx="2336.1" cy="1221.4" rx="10.2" ry="9.3"/><ellipse cx="2329.0" cy="1240.6" rx="10.2" ry="9.3"/><ellipse cx="2342.5" cy="1242.0" rx="10.2" ry="9.3"/><ellipse cx="2351.0" cy="1244.8" rx="10.2" ry="9.3"/><ellipse cx="2360.0" cy="1247.0" rx="10.2" ry="9.3"/></g>
<path d="M570.5,367.6L569.4,382.0M589.7,372.0L592.6,385.0M611.4,389.3L612.8,399.4M647.5,416.8L651.9,454.4M663.5,450.0L662.0,464.5M692.0,452.0L704.0,452.0M692.0,460.0L704.0,460.0M825.5,423.7L826.2,440.3M857.9,450.9L857.9,463.0M891.1,475.5L891.1,476.1M942.0,500.0L942.0,510.0M951.0,500.0L951.0,510.0M995.2,509.7L995.2,512.9M743.0,395.0L741.6,403.8M776.3,405.2L780.6,398.0M772.0,410.0L782.0,404.0M1289.3,619.5L1289.3,620.1M1634.6,754.4L1634.6,755.0M1773.1,837.4L1773.1,838.0M1798.0,856.0L1798.0,861.0M1849.6,891.4L1849.6,892.0" fill="none" stroke="#f00" stroke-width="10.5" stroke-linecap="round"/>
<g fill="#fff" stroke="#f00" stroke-width="1.6"><rect x="526.1" y="372.4" width="18.2" height="15.6"/><rect x="538.9" y="384.7" width="18.2" height="15.6"/><rect x="551.9" y="381.9" width="18.2" height="15.6"/><rect x="565.0" y="347.9" width="18.2" height="15.6"/><rect x="578.0" y="352.1" width="18.2" height="15.6"/><rect x="591.0" y="384.4" width="18.2" height="15.6"/><rect x="604.2" y="403.5" width="18.2" height="15.6"/><rect x="617.0" y="414.5" width="18.2" height="15.6"/><rect x="630.1" y="418.4" width="18.2" height="15.6"/><rect x="643.1" y="457.7" width="18.2" height="15.6"/><rect x="656.5" y="429.5" width="18.2" height="15.6"/><rect x="669.5" y="439.1" width="18.2" height="15.6"/><rect x="682.3" y="432.1" width="18.2" height="15.6"/><rect x="695.9" y="433.9" width="18.2" height="15.6"/><rect x="708.3" y="410.2" width="18.2" height="15.6"/><rect x="721.6" y="394.5" width="18.2" height="15.6"/><rect x="734.9" y="373.8" width="18.2" height="15.6"/><rect x="747.7" y="394.1" width="18.2" height="15.6"/><rect x="760.8" y="385.4" width="18.2" height="15.6"/><rect x="774.0" y="376.9" width="18.2" height="15.6"/><rect x="786.0" y="399.2" width="18.2" height="15.6"/><rect x="799.8" y="408.4" width="18.2" height="15.6"/><rect x="813.0" y="402.1" width="18.2" height="15.6"/><rect x="851.8" y="431.0" width="18.2" height="15.6"/><rect x="825.4" y="446.1" width="18.2" height="15.6"/><rect x="839.0" y="446.1" width="18.2" height="15.6"/><rect x="865.4" y="450.6" width="18.2" height="15.6"/><rect x="878.2" y="481.6" width="18.2" height="15.6"/><rect x="891.1" y="474.5" width="18.2" height="15.6"/><rect x="904.6" y="486.9" width="18.2" height="15.6"/><rect x="917.5" y="494.4" width="18.2" height="15.6"/><rect x="930.3" y="479.3" width="18.2" height="15.6"/><rect x="943.1" y="480.1" width="18.2" height="15.6"/><rect x="956.4" y="477.8" width="18.2" height="15.6"/><rect x="969.5" y="512.2" width="18.2" height="15.6"/><rect x="982.3" y="485.0" width="18.2" height="15.6"/><rect x="995.6" y="498.2" width="18.2" height="15.6"/><rect x="1008.8" y="510.2" width="18.2" height="15.6"/><rect x="1021.6" y="523.1" width="18.2" height="15.6"/><rect x="1035.2" y="505.7" width="18.2" height="15.6"/><rect x="1048.0" y="538.0" width="18.2" height="15.6"/><rect x="1059.1" y="543.2" width="18.2" height="15.6"/><rect x="1074.0" y="542.8" width="18.2" height="15.6"/><rect x="1087.2" y="541.0" width="18.2" height="15.6"/><rect x="1099.9" y="558.3" width="18.2" height="15.6"/><rect x="1113.2" y="558.3" width="18.2" height="15.6"/><rect x="1125.7" y="573.9" width="18.2" height="15.6"/><rect x="1139.2" y="560.8" width="18.2" height="15.6"/><rect x="1152.0" y="566.3" width="18.2" height="15.6"/><rect x="1165.4" y="567.7" width="18.2" height="15.6"/><rect x="1178.5" y="572.5" width="18.2" height="15.6"/><rect x="1191.0" y="584.6" width="18.2" height="15.6"/><rect x="1203.7" y="588.2" width="18.2" height="15.6"/><rect x="1217.3" y="582.6" width="18.2" height="15.6"/><rect x="1230.4" y="570.9" width="18.2" height="15.6"/><rect x="1243.8" y="592.0" width="18.2" height="15.6"/><rect x="1256.3" y="599.5" width="18.2" height="15.6"/><rect x="1269.2" y="607.8" width="18.2" height="15.6"/><rect x="1282.3" y="626.9" width="18.2" height="15.6"/><rect x="1295.7" y="618.2" width="18.2" height="15.6"/><rect x="1308.6" y="622.3" width="18.2" height="15.6"/><rect x="1321.7" y="629.3" width="18.2" height="15.6"/><rect x="1334.2" y="634.4" width="18.2" height="15.6"/><rect x="1347.3" y="635.5" width="18.2" height="15.6"/><rect x="1357.0" y="641.7" width="18.2" height="15.6"/><rect x="1360.7" y="641.2" width="18.2" height="15.6"/><rect x="1373.8" y="642.7" width="18.2" height="15.6"/><rect x="1387.1" y="634.4" width="18.2" height="15.6"/><rect x="1399.9" y="648.0" width="18.2" height="15.6"/><rect x="1412.8" y="627.2" width="18.2" height="15.6"/><rect x="1425.9" y="665.7" width="18.2" height="15.6"/><rect x="1438.9" y="669.2" width="18.2" height="15.6"/><rect x="1452.3" y="663.6" width="18.2" height="15.6"/><rect x="1464.8" y="677.4" width="18.2" height="15.6"/><rect x="1478.4" y="677.4" width="18.2" height="15.6"/><rect x="1491.7" y="687.6" width="18.2" height="15.6"/><rect x="1504.1" y="693.7" width="18.2" height="15.6"/><rect x="1517.6" y="697.1" width="18.2" height="15.6"/><rect x="1530.9" y="694.8" width="18.2" height="15.6"/><rect x="1543.7" y="719.4" width="18.2" height="15.6"/><rect x="1556.9" y="714.4" width="18.2" height="15.6"/><rect x="1570.0" y="729.5" width="18.2" height="15.6"/><rect x="1582.8" y="739.3" width="18.2" height="15.6"/><rect x="1596.1" y="722.4" width="18.2" height="15.6"/><rect x="1608.6" y="745.0" width="18.2" height="15.6"/><rect x="1622.1" y="731.8" width="18.2" height="15.6"/><rect x="1634.9" y="760.7" width="18.2" height="15.6"/><rect x="1647.5" y="753.8" width="18.2" height="15.6"/><rect x="1661.4" y="786.9" width="18.2" height="15.6"/><rect x="1674.3" y="779.4" width="18.2" height="15.6"/><rect x="1687.1" y="793.7" width="18.2" height="15.6"/><rect x="1699.9" y="802.0" width="18.2" height="15.6"/><rect x="1713.5" y="802.0" width="18.2" height="15.6"/><rect x="1726.8" y="805.0" width="18.2" height="15.6"/><rect x="1739.4" y="831.4" width="18.2" height="15.6"/><rect x="1752.4" y="827.6" width="18.2" height="15.6"/><rect x="1765.5" y="843.5" width="18.2" height="15.6"/><rect x="1778.4" y="840.2" width="18.2" height="15.6"/><rect x="1791.5" y="869.2" width="18.2" height="15.6"/><rect x="1805.2" y="840.9" width="18.2" height="15.6"/><rect x="1817.6" y="866.4" width="18.2" height="15.6"/><rect x="1830.9" y="872.2" width="18.2" height="15.6"/><rect x="1856.7" y="880.5" width="18.2" height="15.6"/><rect x="1870.0" y="888.8" width="18.2" height="15.6"/><rect x="1843.8" y="897.9" width="18.2" height="15.6"/><rect x="1882.5" y="912.6" width="18.2" height="15.6"/><rect x="1896.3" y="909.2" width="18.2" height="15.6"/><rect x="1909.2" y="911.1" width="18.2" height="15.6"/><rect x="1922.0" y="915.6" width="18.2" height="15.6"/><rect x="1935.4" y="923.1" width="18.2" height="15.6"/><rect x="1948.3" y="905.9" width="18.2" height="15.6"/><rect x="1961.0" y="925.7" width="18.2" height="15.6"/><rect x="1974.2" y="935.7" width="18.2" height="15.6"/><rect x="1987.4" y="929.7" width="18.2" height="15.6"/><rect x="2000.6" y="946.8" width="18.2" height="15.6"/><rect x="2013.4" y="946.4" width="18.2" height="15.6"/><rect x="2026.2" y="949.6" width="18.2" height="15.6"/><rect x="2039.8" y="951.1" width="18.2" height="15.6"/><rect x="2052.8" y="934.5" width="18.2" height="15.6"/><rect x="2063.7" y="945.2" width="18.2" height="15.6"/><rect x="2076.9" y="945.4" width="18.2" height="15.6"/><rect x="2092.0" y="945.4" width="18.2" height="15.6"/><rect x="2105.0" y="948.6" width="18.2" height="15.6"/><rect x="2117.8" y="935.1" width="18.2" height="15.6"/><rect x="2130.8" y="947.0" width="18.2" height="15.6"/><rect x="2143.6" y="936.0" width="18.2" height="15.6"/><rect x="2156.9" y="958.2" width="18.2" height="15.6"/><rect x="2169.8" y="945.4" width="18.2" height="15.6"/><rect x="2183.0" y="943.9" width="18.2" height="15.6"/><rect x="2195.8" y="939.3" width="18.2" height="15.6"/><rect x="2209.4" y="942.4" width="18.2" height="15.6"/><rect x="2222.2" y="937.4" width="18.2" height="15.6"/><rect x="2235.0" y="931.0" width="18.2" height="15.6"/><rect x="2248.2" y="946.9" width="18.2" height="15.6"/><rect x="2261.4" y="950.4" width="18.2" height="15.6"/><rect x="2274.3" y="952.6" width="18.2" height="15.6"/><rect x="2287.9" y="952.2" width="18.2" height="15.6"/><rect x="2300.2" y="974.8" width="18.2" height="15.6"/><rect x="2313.8" y="969.5" width="18.2" height="15.6"/><rect x="2326.6" y="992.6" width="18.2" height="15.6"/><rect x="2339.2" y="994.4" width="18.2" height="15.6"/><rect x="2346.7" y="1008.8" width="18.2" height="15.6"/><rect x="2352.9" y="1012.2" width="18.2" height="15.6"/></g>
<path d="M408.4,548.5 L410.0,547.4 L415.1,543.6 L425.1,534.8 L436.4,522.2 L446.5,512.1 L455.3,502.1 L460.3,489.5 L464.1,479.4 L467.9,465.6 L472.9,445.5 L478.0,426.6 L484.2,407.7 L491.8,385.1 L495.6,370.0 L500.8,353.6 L504.5,325.9 L508.3,298.2 L517.7,263.0 L525.3,235.3 L532.8,205.2 L539.7,180.0 L546.8,155.7 L551.7,135.6 L561.4,105.4 L570.8,75.2 L577.4,65.1 L584.0,60.2 L590.9,58.5 L598.5,60.3 L605.5,70.2 L610.0,77.0 L616.1,95.3 L624.9,115.4 L635.7,135.6 L646.8,155.7 L657.9,172.8 L665.9,178.8 L680.0,184.6 L704.2,186.0 L728.4,185.0 L750.0,184.3 L762.8,190.0 L772.5,200.8 L782.1,213.2 L791.8,228.4 L801.5,243.7 L809.8,257.5 L815.4,265.8 L825.0,281.0 L834.7,299.0 L845.8,318.4 L856.9,335.0 L869.3,351.6 L881.8,364.1 L898.4,376.5 L915.0,389.0 L928.8,398.5 L937.6,404.7 L955.2,415.2 L972.8,426.7 L990.5,438.1 L1008.1,449.6 L1025.7,461.0 L1034.5,467.2 L1047.7,474.2 L1065.3,483.0 L1082.9,491.0 L1100.5,497.1 L1120.0,504.2 L1132.3,506.9 L1168.4,517.7 L1204.6,526.7 L1240.7,533.3 L1276.9,538.3 L1313.0,543.0 L1349.2,546.6 L1385.3,549.5 L1421.4,552.0 L1457.6,554.2 L1493.7,556.4 L1566.0,559.3 L1638.3,561.1 L1710.6,562.2 L1782.9,563.3 L1829.9,564.3" fill="none" stroke="#000" stroke-width="10.3" stroke-linejoin="round" stroke-linecap="round"/>
</g>
<g stroke="#000" stroke-width="5" stroke-linecap="round" fill="none">
<rect x="408.4" y="51.5" width="1947.9" height="1375.5" stroke-linecap="butt" stroke-linejoin="miter"/>
<line x1="408.4" y1="567.3" x2="2356.3" y2="567.3" stroke-linecap="butt"/>
<line x1="408.4" y1="1427.0" x2="408.4" y2="1452.5"/>
<line x1="489.6" y1="1427.0" x2="489.6" y2="1439.5"/>
<line x1="570.7" y1="1427.0" x2="570.7" y2="1452.5"/>
<line x1="651.9" y1="1427.0" x2="651.9" y2="1439.5"/>
<line x1="733.0" y1="1427.0" x2="733.0" y2="1452.5"/>
<line x1="814.2" y1="1427.0" x2="814.2" y2="1439.5"/>
<line x1="895.4" y1="1427.0" x2="895.4" y2="1452.5"/>
<line x1="976.5" y1="1427.0" x2="976.5" y2="1439.5"/>
<line x1="1057.7" y1="1427.0" x2="1057.7" y2="1452.5"/>
<line x1="1138.9" y1="1427.0" x2="1138.9" y2="1439.5"/>
<line x1="1220.0" y1="1427.0" x2="1220.0" y2="1452.5"/>
<line x1="1301.2" y1="1427.0" x2="1301.2" y2="1439.5"/>
<line x1="1382.3" y1="1427.0" x2="1382.3" y2="1452.5"/>
<line x1="1463.5" y1="1427.0" x2="1463.5" y2="1439.5"/>
<line x1="1544.7" y1="1427.0" x2="1544.7" y2="1452.5"/>
<line x1="1625.8" y1="1427.0" x2="1625.8" y2="1439.5"/>
<line x1="1707.0" y1="1427.0" x2="1707.0" y2="1452.5"/>
<line x1="1788.2" y1="1427.0" x2="1788.2" y2="1439.5"/>
<line x1="1869.3" y1="1427.0" x2="1869.3" y2="1452.5"/>
<line x1="1950.5" y1="1427.0" x2="1950.5" y2="1439.5"/>
<line x1="2031.7" y1="1427.0" x2="2031.7" y2="1452.5"/>
<line x1="2112.8" y1="1427.0" x2="2112.8" y2="1439.5"/>
<line x1="2194.0" y1="1427.0" x2="2194.0" y2="1452.5"/>
<line x1="2275.1" y1="1427.0" x2="2275.1" y2="1439.5"/>
<line x1="2356.3" y1="1427.0" x2="2356.3" y2="1452.5"/>
<line x1="408.4" y1="51.5" x2="377.4" y2="51.5"/>
<line x1="408.4" y1="137.5" x2="392.8" y2="137.5"/>
<line x1="408.4" y1="223.4" x2="377.4" y2="223.4"/>
<line x1="408.4" y1="309.4" x2="392.8" y2="309.4"/>
<line x1="408.4" y1="395.4" x2="377.4" y2="395.4"/>
<line x1="408.4" y1="481.3" x2="392.8" y2="481.3"/>
<line x1="408.4" y1="567.3" x2="377.4" y2="567.3"/>
<line x1="408.4" y1="653.3" x2="392.8" y2="653.3"/>
<line x1="408.4" y1="739.2" x2="377.4" y2="739.2"/>
<line x1="408.4" y1="825.2" x2="392.8" y2="825.2"/>
<line x1="408.4" y1="911.2" x2="377.4" y2="911.2"/>
<line x1="408.4" y1="997.2" x2="392.8" y2="997.2"/>
<line x1="408.4" y1="1083.1" x2="377.4" y2="1083.1"/>
<line x1="408.4" y1="1169.1" x2="392.8" y2="1169.1"/>
<line x1="408.4" y1="1255.1" x2="377.4" y2="1255.1"/>
<line x1="408.4" y1="1341.0" x2="392.8" y2="1341.0"/>
<line x1="408.4" y1="1427.0" x2="377.4" y2="1427.0"/>
</g>
<g font-family="'Liberation Sans', Arial, sans-serif" fill="#000">
<text transform="translate(408.4,1518.3) scale(1.1,1)" font-size="60.5" text-anchor="middle" >400</text>
<text transform="translate(570.7,1518.3) scale(1.1,1)" font-size="60.5" text-anchor="middle" >425</text>
<text transform="translate(733.0,1518.3) scale(1.1,1)" font-size="60.5" text-anchor="middle" >450</text>
<text transform="translate(895.4,1518.3) scale(1.1,1)" font-size="60.5" text-anchor="middle" >475</text>
<text transform="translate(1057.7,1518.3) scale(1.1,1)" font-size="60.5" text-anchor="middle" >500</text>
<text transform="translate(1220.0,1518.3) scale(1.1,1)" font-size="60.5" text-anchor="middle" >525</text>
<text transform="translate(1382.3,1518.3) scale(1.1,1)" font-size="60.5" text-anchor="middle" >550</text>
<text transform="translate(1544.7,1518.3) scale(1.1,1)" font-size="60.5" text-anchor="middle" >575</text>
<text transform="translate(1707.0,1518.3) scale(1.1,1)" font-size="60.5" text-anchor="middle" >600</text>
<text transform="translate(1869.3,1518.3) scale(1.1,1)" font-size="60.5" text-anchor="middle" >625</text>
<text transform="translate(2031.7,1518.3) scale(1.1,1)" font-size="60.5" text-anchor="middle" >650</text>
<text transform="translate(2194.0,1518.3) scale(1.1,1)" font-size="60.5" text-anchor="middle" >675</text>
<text transform="translate(2356.3,1518.3) scale(1.1,1)" font-size="60.5" text-anchor="middle" >700</text>
<text transform="translate(355.5,69.3) scale(1.1,1)" font-size="60.5" text-anchor="end" >0,006</text>
<text transform="translate(355.5,241.2) scale(1.1,1)" font-size="60.5" text-anchor="end" >0,004</text>
<text transform="translate(355.5,413.2) scale(1.1,1)" font-size="60.5" text-anchor="end" >0,002</text>
<text transform="translate(355.5,585.1) scale(1.1,1)" font-size="60.5" text-anchor="end" >0,000</text>
<text transform="translate(355.5,757.0) scale(1.1,1)" font-size="60.5" text-anchor="end" >-0,002</text>
<text transform="translate(355.5,929.0) scale(1.1,1)" font-size="60.5" text-anchor="end" >-0,004</text>
<text transform="translate(355.5,1100.9) scale(1.1,1)" font-size="60.5" text-anchor="end" >-0,006</text>
<text transform="translate(355.5,1272.9) scale(1.1,1)" font-size="60.5" text-anchor="end" >-0,008</text>
<g transform="translate(355.5,1444.8) scale(1.1,1)"><text font-size="60.5" text-anchor="end" >-0,0<tspan dx="2.81">1</tspan><tspan dx="-2.81">0</tspan></text><rect x="-60.50" y="-5.47" width="11.17" height="6.06" fill="#fff"/><rect x="-43.87" y="-5.47" width="10.69" height="6.06" fill="#fff"/></g>
<text transform="translate(1074.0,1629.4) scale(1.115,1)" font-size="73.5" text-anchor="start" >Wavelength (nm)</text>
<g transform="translate(75.8,638) rotate(-90) scale(1.115,1)">
<text x="0" y="0" font-size="73.5"><tspan dx="-2.9" font-family="'Liberation Serif', serif">&#916;</tspan><tspan dx="-5.5">T</tspan><tspan dx="-6.0">/</tspan><tspan dx="-2.1">T</tspan></text>
</g>
<g transform="translate(2056.5,133.9) scale(1.115,1)"><text font-size="73.5" text-anchor="start" ><tspan dx="3.41">1</tspan><tspan dx="-3.41"> ps</tspan></text><rect x="8.25" y="-6.64" width="13.57" height="7.36" fill="#fff"/><rect x="28.46" y="-6.64" width="12.99" height="7.36" fill="#fff"/></g>
<text transform="translate(2056.5,221.9) scale(1.115,1)" font-size="73.5" text-anchor="start" >4 ps</text>
<g transform="translate(2056.5,309.6) scale(1.115,1)"><text font-size="73.5" text-anchor="start" ><tspan dx="3.41">1</tspan><tspan dx="-3.41">0 ps</tspan></text><rect x="8.25" y="-6.64" width="13.57" height="7.36" fill="#fff"/><rect x="28.46" y="-6.64" width="12.99" height="7.36" fill="#fff"/></g>
<text transform="translate(2056.5,397.9) scale(1.115,1)" font-size="73.5" text-anchor="start" >200 ps</text>
<text transform="translate(2056.5,485.9) scale(1.115,1)" font-size="73.5" text-anchor="start" >PL</text>
</g>
<g stroke-linecap="round">
<line x1="1852.2" y1="109.4" x2="2035.4" y2="109.4" stroke="#000" stroke-width="10"/>
<line x1="1852.2" y1="197.4" x2="2035.4" y2="197.4" stroke="#f00" stroke-width="10"/>
<line x1="1852.2" y1="285.1" x2="2035.4" y2="285.1" stroke="#f0f" stroke-width="10"/>
<line x1="1852.2" y1="373.4" x2="2035.4" y2="373.4" stroke="#00f" stroke-width="10"/>
<line x1="1852.2" y1="461.4" x2="2035.4" y2="461.4" stroke="#000" stroke-width="10"/>
</g>
<ellipse cx="1944" cy="109.4" rx="10.2" ry="9.6" fill="#000"/>
<rect x="1934.9" y="189.6" width="18.2" height="15.6" fill="#fff" stroke="#f00" stroke-width="1.6"/>
<ellipse cx="1944" cy="285.1" rx="9.4" ry="8.9" fill="#fff" stroke="#f0f" stroke-width="1.6"/>
<polygon points="1931.8,379.3 1943.7,361.2 1955.6,379.3" fill="#fff" stroke="#00f" stroke-width="1.6"/>
</svg></body></html>
